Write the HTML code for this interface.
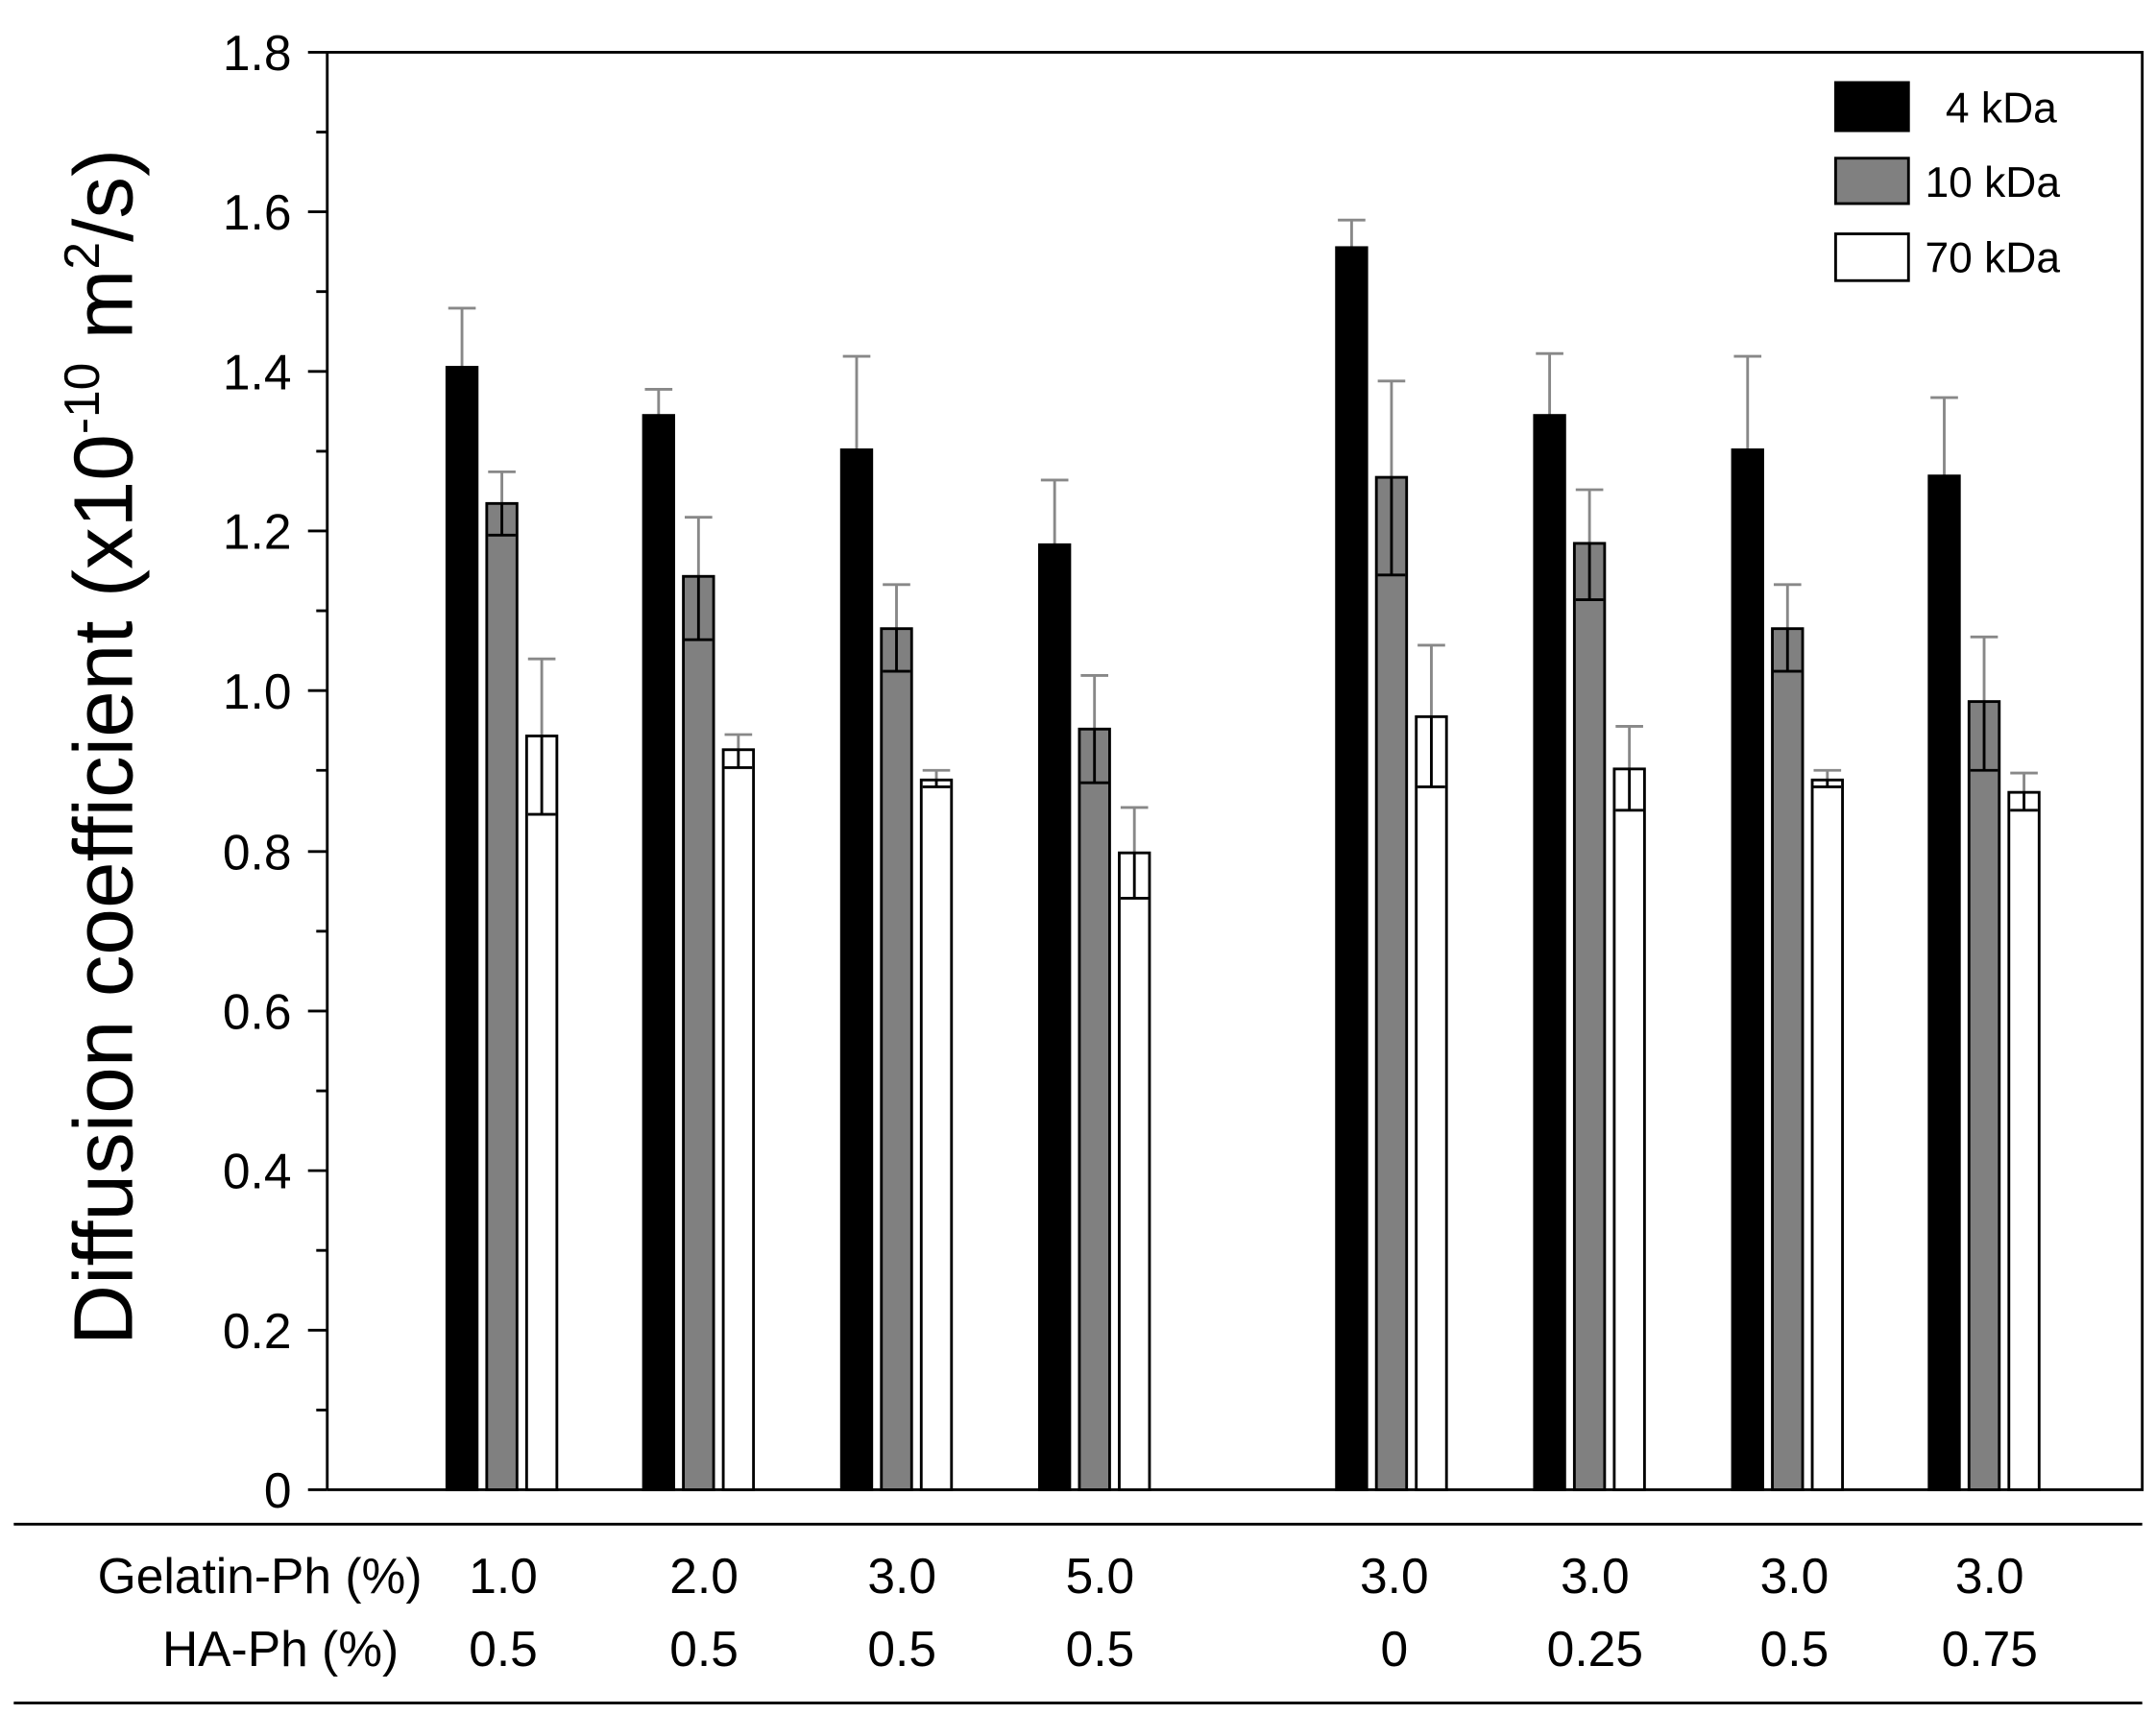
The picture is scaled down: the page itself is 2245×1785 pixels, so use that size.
<!DOCTYPE html>
<html><head><style>html,body{margin:0;padding:0;background:#fff}svg{display:block}</style></head>
<body>
<svg width="2245" height="1785" viewBox="0 0 1568 1246" preserveAspectRatio="none" xmlns="http://www.w3.org/2000/svg" font-family="'Liberation Sans', Arial, sans-serif">
<rect width="1568" height="1246" fill="#fff"/>
<g stroke-width="2">
<g stroke="#888" fill="none">
<path d="M336 267V224M326 224H346 M365 366V343M355 343H375 M394 535V479M384 479H404"/>
<path d="M479 302V283M469 283H489 M508 419V376M498 376H518 M537 545V534M527 534H547"/>
<path d="M623 327V259M613 259H633 M652 457V425M642 425H662 M681 567V560M671 560H691"/>
<path d="M767 396V349M757 349H777 M796 530V491M786 491H806 M825 620V587M815 587H835"/>
<path d="M983 180V160M973 160H993 M1012 347V277M1002 277H1022 M1041 521V469M1031 469H1051"/>
<path d="M1127 302V257M1117 257H1137 M1156 395V356M1146 356H1166 M1185 559V528M1175 528H1195"/>
<path d="M1271 327V259M1261 259H1281 M1300 457V425M1290 425H1310 M1329 567V560M1319 560H1339"/>
<path d="M1414 346V289M1404 289H1424 M1443 510V463M1433 463H1453 M1472 576V562M1462 562H1482"/>
</g>
<g stroke="#000">
<rect x="325" y="267" width="22" height="816" fill="#000"/><rect x="354" y="366" width="22" height="717" fill="#808080"/><rect x="383" y="535" width="22" height="548" fill="#fff"/>
<rect x="468" y="302" width="22" height="781" fill="#000"/><rect x="497" y="419" width="22" height="664" fill="#808080"/><rect x="526" y="545" width="22" height="538" fill="#fff"/>
<rect x="612" y="327" width="22" height="756" fill="#000"/><rect x="641" y="457" width="22" height="626" fill="#808080"/><rect x="670" y="567" width="22" height="516" fill="#fff"/>
<rect x="756" y="396" width="22" height="687" fill="#000"/><rect x="785" y="530" width="22" height="553" fill="#808080"/><rect x="814" y="620" width="22" height="463" fill="#fff"/>
<rect x="972" y="180" width="22" height="903" fill="#000"/><rect x="1001" y="347" width="22" height="736" fill="#808080"/><rect x="1030" y="521" width="22" height="562" fill="#fff"/>
<rect x="1116" y="302" width="22" height="781" fill="#000"/><rect x="1145" y="395" width="22" height="688" fill="#808080"/><rect x="1174" y="559" width="22" height="524" fill="#fff"/>
<rect x="1260" y="327" width="22" height="756" fill="#000"/><rect x="1289" y="457" width="22" height="626" fill="#808080"/><rect x="1318" y="567" width="22" height="516" fill="#fff"/>
<rect x="1403" y="346" width="22" height="737" fill="#000"/><rect x="1432" y="510" width="22" height="573" fill="#808080"/><rect x="1461" y="576" width="22" height="507" fill="#fff"/>
<path fill="none" d="M365 366V389M355 389H375 M394 535V592M384 592H404
M508 419V465M498 465H518 M537 545V558M527 558H547
M652 457V488M642 488H662 M681 567V572M671 572H691
M796 530V569M786 569H806 M825 620V653M815 653H835
M1012 347V418M1002 418H1022 M1041 521V572M1031 572H1051
M1156 395V436M1146 436H1166 M1185 559V589M1175 589H1195
M1300 457V488M1290 488H1310 M1329 567V572M1319 572H1339
M1443 510V560M1433 560H1453 M1472 576V589M1462 589H1482"/>
<path fill="none" d="M224 1083H238M230 1025H238M224 967H238M230 909H238M224 851H238M230 793H238M224 735H238M230 677H238M224 619H238M230 560H238M224 502H238M230 444H238M224 386H238M230 328H238M224 270H238M230 212H238M224 154H238M230 96H238M224 38H238"/>
</g>
</g>
<g font-size="36" text-anchor="end">
<text x="212" y="1096">0</text><text x="212" y="980">0.2</text><text x="212" y="864">0.4</text><text x="212" y="748">0.6</text><text x="212" y="632">0.8</text><text x="212" y="515">1.0</text><text x="212" y="399">1.2</text><text x="212" y="283">1.4</text><text x="212" y="167">1.6</text><text x="212" y="51">1.8</text>
</g>
<polyline points="238,1083 238,38 1558,38 1558,1083 238,1083" fill="none" stroke="#000" stroke-width="2"/>
<text transform="translate(96,543) rotate(-90)" font-size="61" text-anchor="middle">Diffusion coefficient (x10<tspan font-size="36" dy="-24">-10</tspan><tspan dy="24"> m</tspan><tspan font-size="36" dy="-24">2</tspan><tspan dy="24">/s)</tspan></text>
<rect x="1335" y="60" width="53" height="35" fill="#000" stroke="#000" stroke-width="2"/>
<rect x="1335" y="115" width="53" height="33" fill="#808080" stroke="#000" stroke-width="2"/>
<rect x="1335" y="170" width="53" height="34" fill="#fff" stroke="#000" stroke-width="2"/>
<text x="1415" y="89" font-size="31">4 kDa</text>
<text x="1400" y="143" font-size="31">10 kDa</text>
<text x="1400" y="198" font-size="31">70 kDa</text>
<line x1="10" x2="1558" y1="1108" y2="1108" stroke="#000" stroke-width="2"/>
<line x1="10" x2="1558" y1="1238" y2="1238" stroke="#000" stroke-width="2"/>
<g font-size="36" text-anchor="middle">
<text x="307" y="1158" text-anchor="end">Gelatin-Ph (%)</text>
<text x="290" y="1211" text-anchor="end">HA-Ph (%)</text>
<text x="366" y="1158">1.0</text><text x="366" y="1211">0.5</text>
<text x="512" y="1158">2.0</text><text x="512" y="1211">0.5</text>
<text x="656" y="1158">3.0</text><text x="656" y="1211">0.5</text>
<text x="800" y="1158">5.0</text><text x="800" y="1211">0.5</text>
<text x="1014" y="1158">3.0</text><text x="1014" y="1211">0</text>
<text x="1160" y="1158">3.0</text><text x="1160" y="1211">0.25</text>
<text x="1305" y="1158">3.0</text><text x="1305" y="1211">0.5</text>
<text x="1447" y="1158">3.0</text><text x="1447" y="1211">0.75</text>
</g>
</svg>
</body></html>
